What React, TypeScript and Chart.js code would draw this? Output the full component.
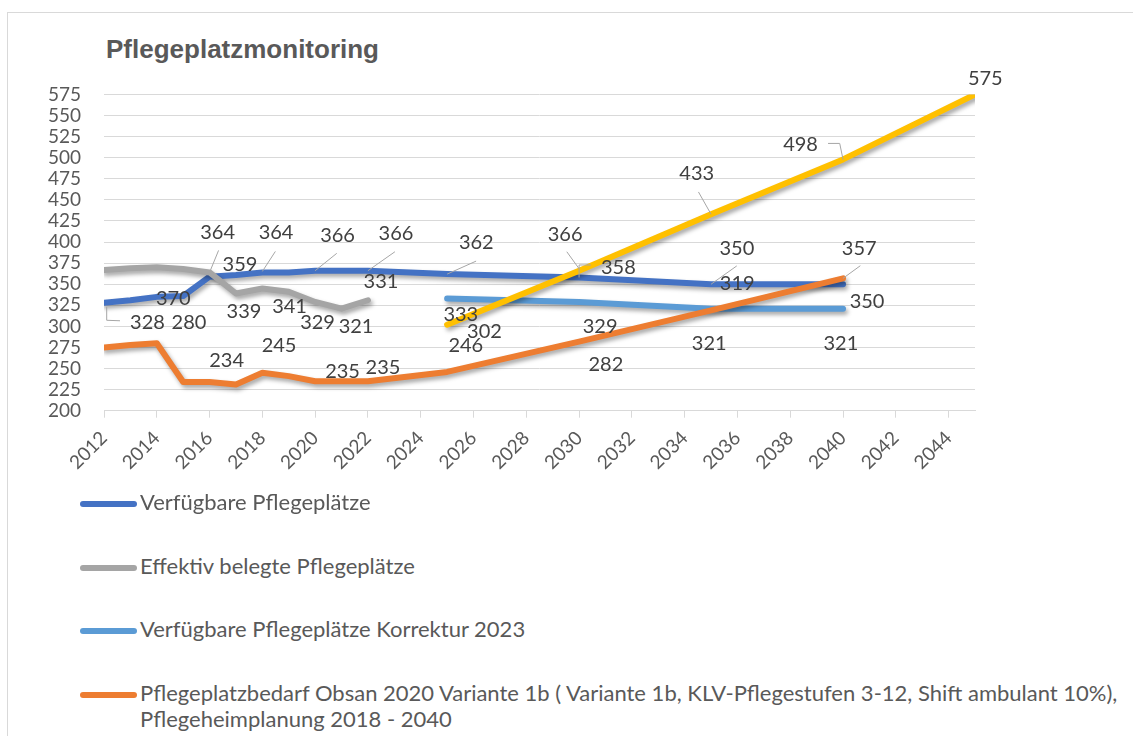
import React, { useEffect, useRef } from 'react';
import { Chart, registerables } from 'chart.js';

Chart.register(...registerables);

// ---------- data ----------
const titleText = 'Pflegeplatzmonitoring';

const blueYears = [2012, 2013, 2014, 2015, 2016, 2017, 2018, 2019, 2020, 2021, 2022, 2025, 2030, 2035, 2040];
const blueValues = [328, 331, 335, 336, 359, 361, 364, 364, 366, 366, 366, 362, 358, 350, 350];

const grayYears = [2012, 2013, 2014, 2015, 2016, 2017, 2018, 2019, 2020, 2021, 2022];
const grayValues = [367, 369, 370, 368, 364, 339, 345, 341, 329, 321, 331];

const lightBlueYears = [2025, 2030, 2035, 2040];
const lightBlueValues = [333, 329, 321, 321];

const orangeYears = [2012, 2013, 2014, 2015, 2016, 2017, 2018, 2019, 2020, 2021, 2022, 2025, 2030, 2035, 2040];
const orangeValues = [275, 278, 280, 234, 234, 231, 245, 241, 235, 235, 235, 246, 282, 319, 357];

const yellowYears = [2025, 2030, 2035, 2040, 2045];
const yellowValues = [302, 366, 433, 498, 575];

const xTickYears = [2012, 2014, 2016, 2018, 2020, 2022, 2024, 2026, 2028, 2030, 2032, 2034, 2036, 2038, 2040, 2042, 2044];
const xMin = 2012;
const xMax = 2045;
const yMin = 200;
const yMax = 575;
const yStep = 25;

const legendLabels = [
  'Verfügbare Pflegeplätze',
  'Effektiv belegte Pflegeplätze',
  'Verfügbare Pflegeplätze Korrektur 2023',
  'Pflegeplatzbedarf Obsan 2020 Variante 1b ( Variante 1b, KLV-Pflegestufen 3-12, Shift ambulant 10%),|Pflegeheimplanung 2018 - 2040',
];

// ---------- styles ----------
const COLORS = ['#4472C4', '#A5A5A5', '#5B9BD5', '#ED7D31', '#FFC000'];
const FONT = 'Lato, "Open Sans", sans-serif';
const TEXT = '#595959';

// data label placement (style config: offsets in px from each point)
const labelPlacement: { ds: number; year: number; dx: number; dy: number; leader?: number[][] }[] = [
  { ds: 0, year: 2012, dx: 43.5, dy: 20, leader: [[2.7, 4], [2.7, 17.5], [16, 18]] },
  { ds: 0, year: 2016, dx: 30.4, dy: -11.6 },
  { ds: 0, year: 2018, dx: 13.7, dy: -40, leader: [[0, -1], [13, -21]] },
  { ds: 0, year: 2020, dx: 22.4, dy: -35, leader: [[0, 0], [21.6, -17.4]] },
  { ds: 0, year: 2022, dx: 28, dy: -36.7, leader: [[0, 0], [27, -19]] },
  { ds: 0, year: 2025, dx: 29.2, dy: -31.6, leader: [[0, 0], [29, -13]] },
  { ds: 0, year: 2030, dx: 39.3, dy: -10, leader: [[0, 0], [0, -12.5], [11.7, -12.5]] },
  { ds: 0, year: 2035, dx: 25.8, dy: -36, leader: [[0, 0], [25.7, -18.3]] },
  { ds: 0, year: 2040, dx: 24, dy: 17.5 },

  { ds: 1, year: 2014, dx: 16.5, dy: 31.3 },
  { ds: 1, year: 2016, dx: 8, dy: -40, leader: [[0, 0], [9, -22]] },
  { ds: 1, year: 2017, dx: 8, dy: 18.2 },
  { ds: 1, year: 2019, dx: 0.8, dy: 14.9 },
  { ds: 1, year: 2020, dx: 2.4, dy: 20.4 },
  { ds: 1, year: 2021, dx: 14.5, dy: 17.6 },
  { ds: 1, year: 2022, dx: 13, dy: -19 },

  { ds: 2, year: 2025, dx: 13.7, dy: 16.4 },
  { ds: 2, year: 2030, dx: 21, dy: 24.8 },
  { ds: 2, year: 2035, dx: -1.8, dy: 34.6 },
  { ds: 2, year: 2040, dx: -2.2, dy: 34.6 },

  { ds: 3, year: 2014, dx: 32.2, dy: -21 },
  { ds: 3, year: 2016, dx: 17, dy: -21 },
  { ds: 3, year: 2018, dx: 16.7, dy: -27.4 },
  { ds: 3, year: 2021, dx: 1, dy: -9.5 },
  { ds: 3, year: 2022, dx: 15, dy: -14 },
  { ds: 3, year: 2025, dx: 18.7, dy: -26 },
  { ds: 3, year: 2030, dx: 26.8, dy: 23 },
  { ds: 3, year: 2035, dx: 26.2, dy: -27 },
  { ds: 3, year: 2040, dx: 16.2, dy: -30, leader: [[0, 0], [17.3, -12.6]] },

  { ds: 4, year: 2025, dx: 37.4, dy: 7 },
  { ds: 4, year: 2030, dx: -14, dy: -36, leader: [[0, -2], [-12.3, -19]] },
  { ds: 4, year: 2035, dx: -14.3, dy: -41, leader: [[0, 0], [-12.6, -22.3]] },
  { ds: 4, year: 2040, dx: -42.5, dy: -14.4, leader: [[0, 0], [-3.3, -16], [-15, -16]] },
  { ds: 4, year: 2045, dx: 10.3, dy: -15.8 },
];

const toPoints = (xs: number[], ys: number[]) => xs.map((x, i) => ({ x, y: ys[i] }));

const shadowPlugin = {
  id: 'lineShadow',
  beforeDatasetDraw(chart: any) {
    const ctx = chart.ctx;
    ctx.save();
    ctx.shadowColor = 'rgba(0,0,0,0.35)';
    ctx.shadowBlur = 4;
    ctx.shadowOffsetX = 2;
    ctx.shadowOffsetY = 3;
  },
  afterDatasetDraw(chart: any) {
    chart.ctx.restore();
  },
};

const labelPlugin = {
  id: 'pointLabels',
  afterDatasetsDraw(chart: any) {
    const ctx = chart.ctx;
    ctx.save();
    labelPlacement.forEach((p) => {
      const ds = chart.data.datasets[p.ds];
      const idx = ds.data.findIndex((d: any) => d.x === p.year);
      if (idx < 0) return;
      const el = chart.getDatasetMeta(p.ds).data[idx];
      const x = el.x;
      const y = el.y;
      if (p.leader) {
        ctx.beginPath();
        ctx.strokeStyle = '#a6a6a6';
        ctx.lineWidth = 1;
        p.leader.forEach((pt, k) => {
          if (k === 0) ctx.moveTo(x + pt[0], y + pt[1]);
          else ctx.lineTo(x + pt[0], y + pt[1]);
        });
        ctx.stroke();
      }
      ctx.font = `20px ${FONT}`;
      ctx.fillStyle = '#404040';
      ctx.textAlign = 'center';
      ctx.textBaseline = 'middle';
      ctx.fillText(String(ds.data[idx].y), x + p.dx, y + p.dy);
    });
    ctx.restore();
  },
};

function makeDataset(label: string, xs: number[], ys: number[], color: string, order: number) {
  return {
    label,
    data: toPoints(xs, ys),
    borderColor: color,
    backgroundColor: color,
    borderWidth: 6,
    borderCapStyle: 'round' as const,
    borderJoinStyle: 'round' as const,
    pointRadius: 0,
    pointHoverRadius: 0,
    tension: 0,
    order,
  };
}

export default function App() {
  const canvasRef = useRef<HTMLCanvasElement>(null);

  useEffect(() => {
    const canvas = canvasRef.current;
    if (!canvas) return;
    const chart = new Chart(canvas, {
      type: 'line',
      data: {
        datasets: [
          makeDataset(legendLabels[0], blueYears, blueValues, COLORS[0], 5),
          makeDataset(legendLabels[1], grayYears, grayValues, COLORS[1], 4),
          makeDataset(legendLabels[2], lightBlueYears, lightBlueValues, COLORS[2], 3),
          makeDataset(legendLabels[3].replace('|', ' '), orangeYears, orangeValues, COLORS[3], 2),
          makeDataset('', yellowYears, yellowValues, COLORS[4], 1),
        ],
      },
      options: {
        responsive: false,
        animation: false,
        devicePixelRatio: 1,
        layout: { padding: { left: 0, top: 94.5, right: 158, bottom: 0 } },
        plugins: {
          legend: { display: false },
          title: { display: false },
          tooltip: { enabled: false },
        },
        scales: {
          x: {
            type: 'linear',
            min: xMin,
            max: xMax,
            bounds: 'data',
            afterBuildTicks: (scale: any) => {
              scale.ticks = xTickYears.map((v) => ({ value: v }));
            },
            afterFit: (scale: any) => {
              scale.height = 79.3;
            },
            grid: {
              display: true,
              drawOnChartArea: false,
              drawTicks: true,
              tickLength: 7,
              color: '#d9d9d9',
            },
            border: { display: true, color: '#d9d9d9', width: 1 },
            ticks: {
              autoSkip: false,
              minRotation: 45,
              maxRotation: 45,
              padding: 9,
              color: TEXT,
              font: { family: FONT, size: 19 },
              callback: (v: any) => String(v),
            },
          },
          y: {
            type: 'linear',
            min: yMin,
            max: yMax,
            afterFit: (scale: any) => {
              scale.width = 104;
            },
            grid: { color: '#d9d9d9', drawTicks: false },
            border: { display: false },
            ticks: {
              stepSize: yStep,
              autoSkip: false,
              padding: 23,
              color: TEXT,
              font: { family: FONT, size: 19 },
              callback: (v: any) => String(v),
            },
          },
        },
      },
      plugins: [shadowPlugin, labelPlugin],
    });
    return () => chart.destroy();
  }, []);

  const legendTop = [504, 567.7, 631, 695];

  return (
    <div style={{ position: 'fixed', left: 0, top: 0, width: 1133, height: 736, background: '#fff', overflow: 'hidden' }}>
      <div
        style={{
          position: 'absolute',
          left: 7,
          top: 12,
          width: 1126,
          height: 724,
          borderTop: '1px solid #d9d9d9',
          borderLeft: '1px solid #d9d9d9',
          boxSizing: 'border-box',
        }}
      />
      <div
        style={{
          position: 'absolute',
          left: 106,
          top: 34.3,
          font: `bold 26px "Liberation Sans", Arial, sans-serif`,
          lineHeight: '30px',
          color: TEXT,
          whiteSpace: 'nowrap',
        }}
      >
        {titleText}
      </div>
      <canvas ref={canvasRef} width={1133} height={490} style={{ position: 'absolute', left: 0, top: 0, display: 'block' }} />
      {legendLabels.map((label, i) => {
        const cy = legendTop[i];
        const lines = label.split('|');
        return (
          <React.Fragment key={i}>
            <div
              style={{
                position: 'absolute',
                left: 80,
                top: cy - 3,
                width: 57,
                height: 6,
                borderRadius: 3,
                background: COLORS[i],
              }}
            />
            <div
              style={{
                position: 'absolute',
                left: 140,
                top: cy + 6.7 - 21.5,
                font: `22px ${FONT}`,
                lineHeight: '26px',
                color: TEXT,
                whiteSpace: 'nowrap',
              }}
            >
              {lines.map((t, k) => (
                <div key={k}>{t}</div>
              ))}
            </div>
          </React.Fragment>
        );
      })}
    </div>
  );
}
